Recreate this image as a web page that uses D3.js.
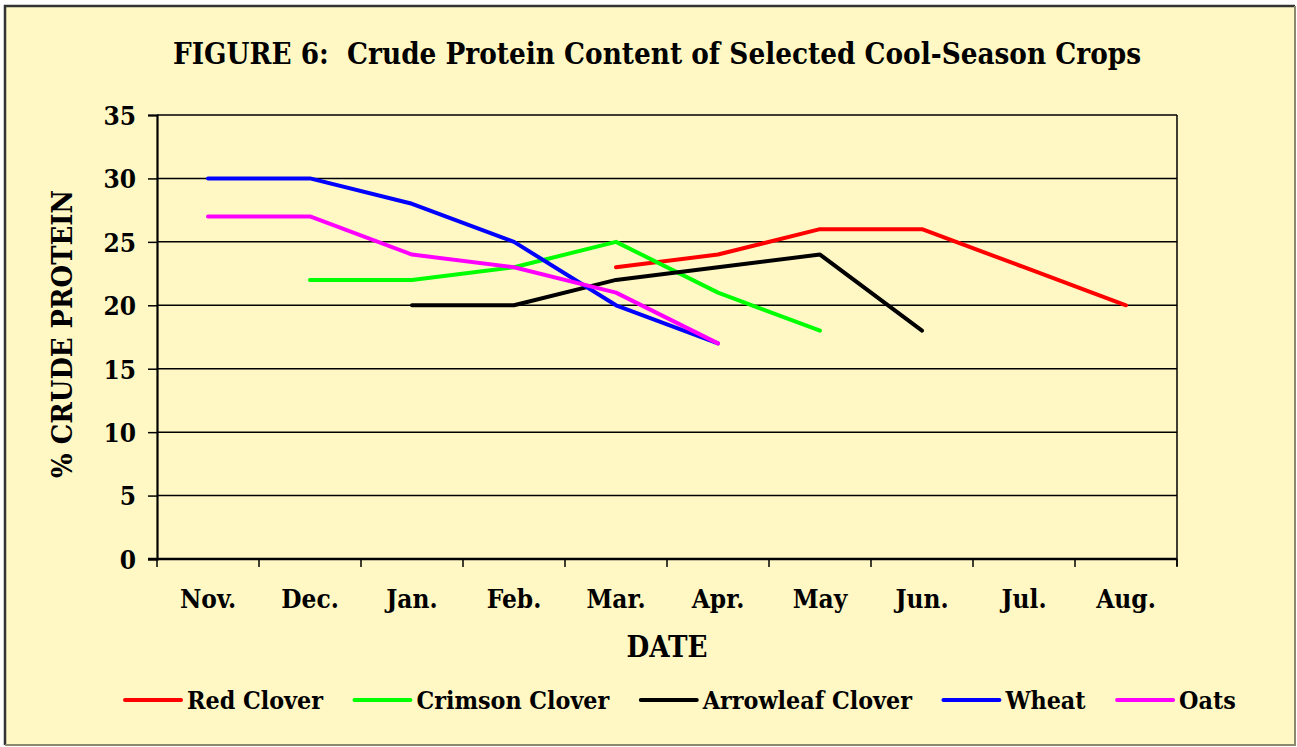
<!DOCTYPE html>
<html>
<head>
<meta charset="utf-8">
<script src="https://cdn.jsdelivr.net/npm/d3@7"></script>
<style>
  html, body { margin: 0; padding: 0; background: #fff; }
  svg { display: block; }
  text { font-family: "DejaVu Serif Condensed", "DejaVu Serif", serif; font-stretch: condensed; font-weight: bold; fill: #000; }
</style>
</head>
<body>
<svg id="chart" width="1297" height="747"></svg>
<script>
// ---- data ----
const months = ["Nov.", "Dec.", "Jan.", "Feb.", "Mar.", "Apr.", "May", "Jun.", "Jul.", "Aug."];
const redClover      = [null, null, null, null, 23, 24, 26, 26, 23, 20];
const crimsonClover  = [null, 22, 22, 23, 25, 21, 18, null, null, null];
const arrowleafClover= [null, null, 20, 20, 22, 23, 24, 18, null, null];
const wheat          = [30, 30, 28, 25, 20, 17, null, null, null, null];
const oats           = [27, 27, 24, 23, 21, 17, null, null, null, null];
const seriesNames  = ["Red Clover", "Crimson Clover", "Arrowleaf Clover", "Wheat", "Oats"];
const seriesColors = ["#FF0000", "#00FF00", "#000000", "#0000FF", "#FF00FF"];
const yTicks = [0, 5, 10, 15, 20, 25, 30, 35];
const titleText = "FIGURE 6:  Crude Protein Content of Selected Cool-Season Crops";
const yTitle = "% CRUDE PROTEIN";
const xTitle = "DATE";

const seriesValues = [redClover, crimsonClover, arrowleafClover, wheat, oats];

// ---- layout ----
const W = 1297, H = 747;
const plot = { left: 157, right: 1177, top: 115, bottom: 559 };

const svg = d3.select("#chart");

// background + frame
svg.append("rect").attr("x", 0).attr("y", 0).attr("width", W).attr("height", H).attr("fill", "#ffffff");
svg.append("rect").attr("x", 5).attr("y", 6).attr("width", 1290).attr("height", 739)
  .attr("fill", "#FFF8C4");
svg.append("path").attr("d", "M5,745 V6 H1295").attr("fill", "none").attr("stroke", "#333").attr("stroke-width", 2.5);
svg.append("path").attr("d", "M1295,6 V745 H5").attr("fill", "none").attr("stroke", "#8a8a70").attr("stroke-width", 2);

const x = d3.scaleBand().domain(months).range([plot.left, plot.right]).paddingInner(0).paddingOuter(0);
const y = d3.scaleLinear().domain([0, 35]).range([plot.bottom, plot.top]);

function fitText(sel, target) {
  const fs = parseFloat(sel.attr("font-size"));
  const w = sel.node().getComputedTextLength();
  sel.attr("font-size", (fs * target / w).toFixed(2));
}

// gridlines
svg.append("g").selectAll("line").data(yTicks.filter(d => d > 0)).join("line")
  .attr("x1", plot.left).attr("x2", plot.right)
  .attr("y1", d => y(d)).attr("y2", d => y(d))
  .attr("stroke", "#000").attr("stroke-width", 1.5);

// right plot border
svg.append("line").attr("x1", plot.right).attr("x2", plot.right)
  .attr("y1", plot.top).attr("y2", plot.bottom + 7).attr("stroke", "#000").attr("stroke-width", 1.5);

// y axis
const yAxis = svg.append("g").attr("transform", `translate(${plot.left},0)`)
  .call(d3.axisLeft(y).tickValues(yTicks).tickSize(9).tickPadding(12).tickFormat(d3.format("d")));
yAxis.select(".domain").attr("stroke", "#000").attr("stroke-width", 2.2);
yAxis.selectAll(".tick line").attr("stroke", "#000").attr("stroke-width", 1.5);
yAxis.selectAll(".tick text").attr("font-size", 22).attr("font-family", null).attr("dy", "0.36em");

// x axis line and ticks at category boundaries
const boundaries = months.map(m => x(m)).concat([x(months[months.length - 1]) + x.bandwidth()]);
svg.append("line").attr("x1", plot.left - 9).attr("x2", plot.right)
  .attr("y1", plot.bottom).attr("y2", plot.bottom).attr("stroke", "#000").attr("stroke-width", 2.5);
svg.append("g").selectAll("line").data(boundaries).join("line")
  .attr("x1", d => d).attr("x2", d => d)
  .attr("y1", plot.bottom).attr("y2", plot.bottom + 8)
  .attr("stroke", "#000").attr("stroke-width", 1.5);

// x labels
const xl = svg.append("g").selectAll("text").data(months).join("text")
  .attr("x", d => x(d) + x.bandwidth() / 2).attr("y", 608)
  .attr("text-anchor", "middle").attr("font-size", 22).text(d => d);
{
  const n = xl.filter(d => d === "Nov.");
  const w = n.node().getComputedTextLength();
  const fs = Math.min(26, 22 * 60 / w).toFixed(2);
  xl.attr("font-size", fs);
  yAxis.selectAll(".tick text").attr("font-size", fs);
}

// lines
const line = d3.line()
  .defined(d => d.v !== null)
  .x(d => x(d.m) + x.bandwidth() / 2)
  .y(d => y(d.v));

svg.append("g").selectAll("path").data(seriesValues.map((vals, i) => ({ i, pts: vals.map((v, j) => ({ m: months[j], v })) })))
  .join("path")
  .attr("d", d => line(d.pts))
  .attr("fill", "none")
  .attr("stroke", d => seriesColors[d.i])
  .attr("stroke-width", 4)
  .attr("stroke-linejoin", "round")
  .attr("stroke-linecap", "round");

// title
const t = svg.append("text").attr("x", 657).attr("y", 64).attr("text-anchor", "middle")
  .attr("font-size", 24).attr("xml:space", "preserve").style("white-space", "pre").text(titleText);
fitText(t, 968);

// y title
const yt = svg.append("text").attr("transform", "translate(72,334) rotate(-90)")
  .attr("text-anchor", "middle").attr("font-size", 22).text(yTitle);
fitText(yt, 288);

// x title
const xt = svg.append("text").attr("x", 667).attr("y", 657).attr("text-anchor", "middle")
  .attr("font-size", 22).text(xTitle);
fitText(xt, 81);

// legend
const legend = svg.append("g");
const lgY = 700;
const items = legend.selectAll("g").data(seriesNames).join("g");
items.append("line").attr("x1", 0).attr("x2", 56).attr("y1", 0).attr("y2", 0)
  .attr("stroke", (d, i) => seriesColors[i]).attr("stroke-width", 4).attr("stroke-linecap", "round");
const ltxt = items.append("text").attr("x", 62).attr("y", 8.5).attr("font-size", 20).text(d => d);
{
  const w = ltxt.filter(d => d === "Red Clover").node().getComputedTextLength();
  ltxt.attr("font-size", (20 * 136 / w).toFixed(2));
}
let cx = 125;
items.each(function () {
  const g = d3.select(this);
  g.attr("transform", `translate(${cx},${lgY})`);
  const tw = g.select("text").node().getComputedTextLength();
  cx += 62 + tw + 31.5;
});
</script>
</body>
</html>
